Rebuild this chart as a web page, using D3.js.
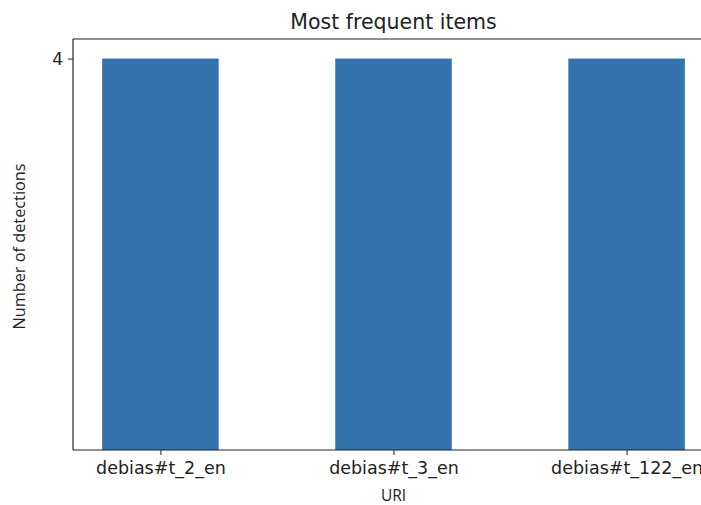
<!DOCTYPE html>
<html><head><meta charset="utf-8">
<script src="https://cdn.jsdelivr.net/npm/d3@7"></script>
<style>html,body{margin:0;padding:0;background:#fff;overflow:hidden;width:701px;height:505px}svg{display:block}</style>
</head><body>
<svg id="c" width="701" height="505"></svg>
<script>
const categories = ["debias#t_2_en", "debias#t_3_en", "debias#t_122_en"];
const values = [4, 4, 4];
const yTicks = [4];

const svg = d3.select("#c");
const mLeft = 73, mRight = 714, mTop = 39, mBottom = 450;
const barW = 0.5;
const x = d3.scaleLinear().domain([-0.375, 2.375]).range([mLeft, mRight]);
const y = d3.scaleLinear().domain([0, 4.2]).range([mBottom, mTop]);

svg.append("g").selectAll("rect").data(values).join("rect")
  .attr("x", (d, i) => x(i - barW / 2))
  .attr("width", (d, i) => x(i + barW / 2) - x(i - barW / 2))
  .attr("y", d => y(d))
  .attr("height", d => y(0) - y(d))
  .attr("fill", "#3573af");

const xAxis = d3.axisBottom(x).tickValues(d3.range(categories.length))
  .tickFormat(i => categories[i]).tickSize(5).tickPadding(7);
const gx = svg.append("g").attr("transform", `translate(0,${mBottom})`).call(xAxis);
gx.select(".domain").remove();
gx.selectAll("text").attr("font-family", "DejaVu Sans").attr("font-size", 17.5).attr("fill", "#222");
gx.selectAll("line").attr("stroke", "#222");

const yAxis = d3.axisLeft(y).tickValues(yTicks).tickFormat(d3.format("d")).tickSize(5).tickPadding(5);
const gy = svg.append("g").attr("transform", `translate(${mLeft},0)`).call(yAxis);
gy.select(".domain").remove();
gy.selectAll("text").attr("font-family", "DejaVu Sans").attr("font-size", 17).attr("fill", "#222");
gy.selectAll("line").attr("stroke", "#222");

const sp = svg.append("g").attr("stroke", "#222").attr("stroke-width", 1.2).attr("fill", "none");
sp.append("line").attr("x1", mLeft).attr("x2", mLeft).attr("y1", mTop).attr("y2", mBottom);
sp.append("line").attr("x1", mLeft).attr("x2", mRight).attr("y1", mBottom).attr("y2", mBottom);
sp.append("line").attr("x1", mLeft).attr("x2", mRight).attr("y1", mTop).attr("y2", mTop);
sp.append("line").attr("x1", mRight).attr("x2", mRight).attr("y1", mTop).attr("y2", mBottom);

svg.append("text").attr("x", (mLeft + mRight) / 2).attr("y", 29)
  .attr("text-anchor", "middle").attr("font-family", "DejaVu Sans").attr("font-size", 20.5)
  .attr("fill", "#222").text("Most frequent items");

svg.append("text").attr("x", (mLeft + mRight) / 2).attr("y", 500.5)
  .attr("text-anchor", "middle").attr("font-family", "Open Sans").attr("font-size", 15.5)
  .attr("fill", "#222").text("URI");

svg.append("text").attr("transform", `translate(25,246.5) rotate(-90)`)
  .attr("text-anchor", "middle").attr("font-family", "Open Sans").attr("font-size", 16.3)
  .attr("fill", "#222").text("Number of detections");
</script>
</body></html>
